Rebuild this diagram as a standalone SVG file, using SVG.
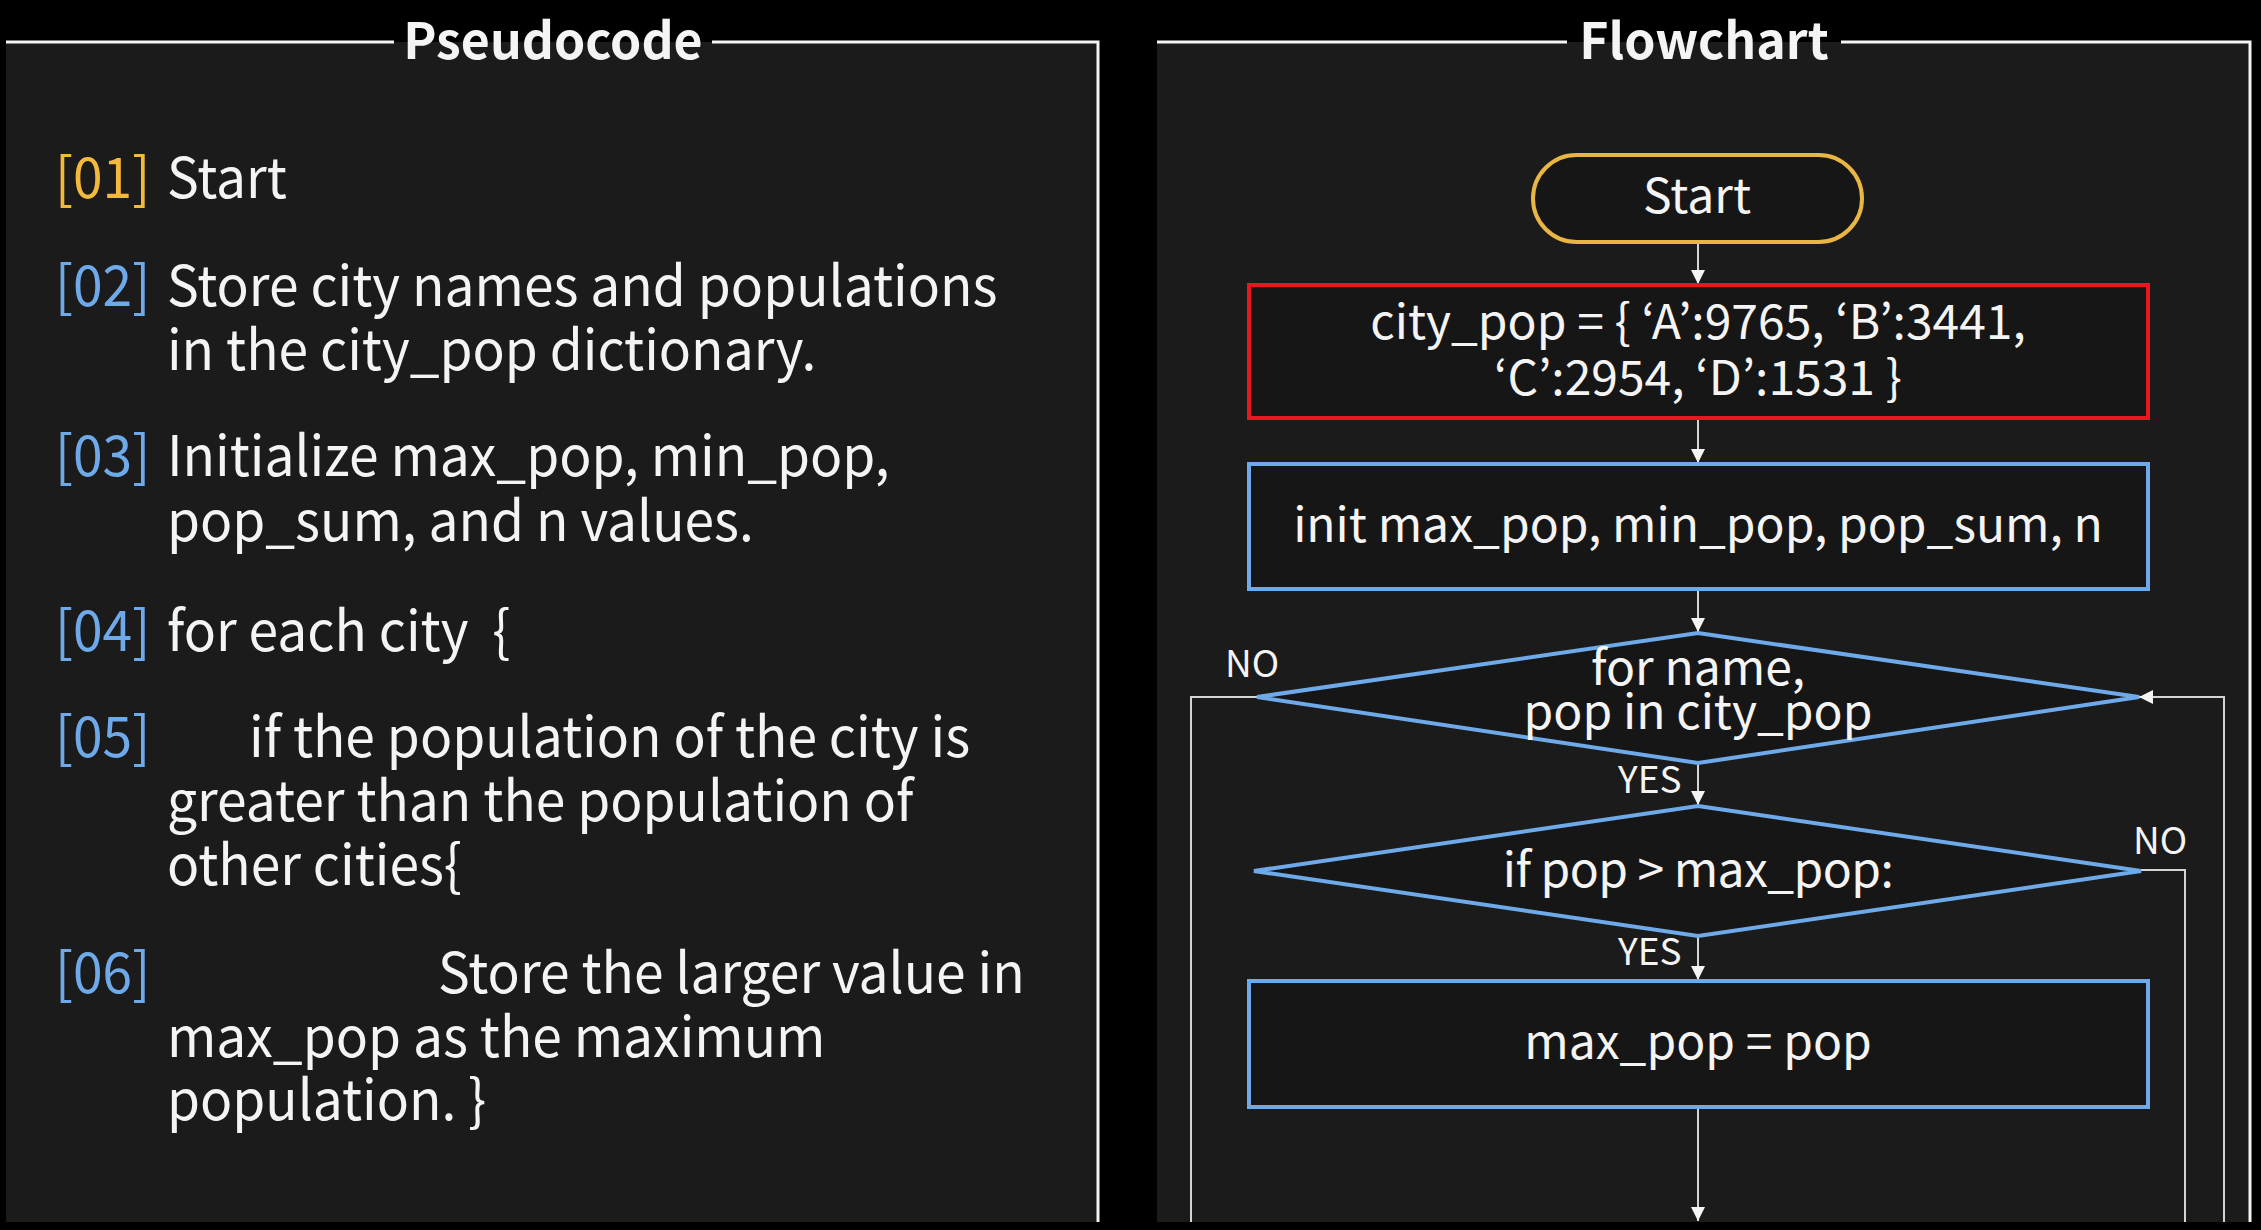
<svg xmlns="http://www.w3.org/2000/svg" width="2261" height="1230" viewBox="0 0 2261 1230">
<defs>
<style>
.t{font-family:"Noto Sans CJK KR","Noto Sans CJK SC","Source Sans Pro","Liberation Sans",sans-serif;fill:#f4f4f4}
.code{font-size:56px}
.num1{fill:#f3b83e}
.num{fill:#6eaaea}
.title{font-size:50px;font-weight:bold;text-anchor:middle}
.fc{font-size:48px;text-anchor:middle}
.lbl{font-size:37px}
.frame{stroke:#f4f4f4;stroke-width:3;fill:none}
.panel{fill:#1b1b1b}
.box{fill:#161616;stroke-width:4}
.blue{stroke:#6eaaea}
.red{stroke:#e8161e}
.conn{stroke:#d4d4d4;stroke-width:2;fill:none}
</style>
<marker id="ah" viewBox="0 0 10 10" refX="10" refY="5" markerWidth="14" markerHeight="14" markerUnits="userSpaceOnUse" orient="auto">
<path d="M0,0 L10,5 L0,10 z" fill="#f4f4f4"/>
</marker>
</defs>
<rect width="2261" height="1230" fill="#000"/>

<g id="pseudocode-panel">
<rect class="panel" x="6" y="42" width="1093" height="1180"/>
<path class="frame" d="M6,42 H394 M712,42 H1098 V1222"/>
<text class="t title" x="553" y="59">Pseudocode</text>
</g>

<g id="pseudocode-lines" transform="translate(55,0) scale(0.952,1) translate(-55,0)">
<g id="line01"><text class="t code num1" x="55" y="198">[01]</text><text class="t code" x="172.6" y="198">Start</text></g>
<g id="line02"><text class="t code num" x="55" y="306">[02]</text><text class="t code" x="172.6" y="306">Store city names and populations</text><text class="t code" x="172.6" y="370">in the city_pop dictionary.</text></g>
<g id="line03"><text class="t code num" x="55" y="476">[03]</text><text class="t code" x="172.6" y="476">Initialize max_pop, min_pop,</text><text class="t code" x="172.6" y="541">pop_sum, and n values.</text></g>
<g id="line04"><text class="t code num" x="55" y="651">[04]</text><text class="t code" x="172.6" y="651" xml:space="preserve">for each city  {</text></g>
<g id="line05"><text class="t code num" x="55" y="757">[05]</text><text class="t code" x="258.8" y="757">if the population of the city is</text><text class="t code" x="172.6" y="821">greater than the population of</text><text class="t code" x="172.6" y="885">other cities{</text></g>
<g id="line06"><text class="t code num" x="55" y="993">[06]</text><text class="t code" x="457.3" y="993">Store the larger value in</text><text class="t code" x="172.6" y="1057">max_pop as the maximum</text><text class="t code" x="172.6" y="1120">population. }</text></g>
</g>

<g id="flowchart-panel">
<rect class="panel" x="1157" y="42" width="1093" height="1180"/>
<path class="frame" d="M1157,42 H1567 M1841,42 H2250 V1222"/>
<text class="t title" x="1704" y="59">Flowchart</text>
</g>

<g id="connectors">
<line class="conn" x1="1698" y1="242" x2="1698" y2="284" marker-end="url(#ah)"/>
<line class="conn" x1="1698" y1="418" x2="1698" y2="463" marker-end="url(#ah)"/>
<line class="conn" x1="1698" y1="589" x2="1698" y2="632" marker-end="url(#ah)"/>
<line class="conn" x1="1698" y1="763" x2="1698" y2="805" marker-end="url(#ah)"/>
<line class="conn" x1="1698" y1="936" x2="1698" y2="980" marker-end="url(#ah)"/>
<line class="conn" x1="1698" y1="1107" x2="1698" y2="1221" marker-end="url(#ah)"/>
<polyline class="conn" points="1257,697 1191,697 1191,1222"/>
<polyline class="conn" points="2224,1222 2224,697 2139,697" marker-end="url(#ah)"/>
<polyline class="conn" points="2141,870 2185,870 2185,1222"/>
<text class="t lbl" x="1225" y="677">NO</text>
<text class="t lbl" x="2133" y="854">NO</text>
<text class="t lbl" x="1618" y="793">YES</text>
<text class="t lbl" x="1618" y="965">YES</text>
</g>

<g id="start">
<rect x="1533" y="155" width="329" height="87" rx="43.5" fill="#161616" stroke="#e9b543" stroke-width="4"/>
<text class="t fc" x="1697" y="213">Start</text>
</g>
<g id="city-pop">
<rect class="box red" x="1249" y="285" width="899" height="133"/>
<text class="t fc" x="1698" y="339">city_pop = { ‘A’:9765, ‘B’:3441,</text>
<text class="t fc" x="1698" y="395">‘C’:2954, ‘D’:1531 }</text>
</g>
<g id="init">
<rect class="box blue" x="1249" y="464" width="899" height="125"/>
<text class="t fc" x="1698" y="542">init max_pop, min_pop, pop_sum, n</text>
</g>
<g id="for-loop">
<polygon class="box blue" points="1698,633 2139,697 1698,763 1257,697"/>
<text class="t fc" x="1698" y="685">for name,</text>
<text class="t fc" x="1698" y="729">pop in city_pop</text>
</g>
<g id="if-max">
<polygon class="box blue" points="1698,806 2141,871 1698,936 1254,871"/>
<text class="t fc" x="1698" y="887" letter-spacing="-0.6">if pop &gt; max_pop:</text>
</g>
<g id="assign-max">
<rect class="box blue" x="1249" y="981" width="899" height="126"/>
<text class="t fc" x="1698" y="1059">max_pop = pop</text>
</g>
</svg>
